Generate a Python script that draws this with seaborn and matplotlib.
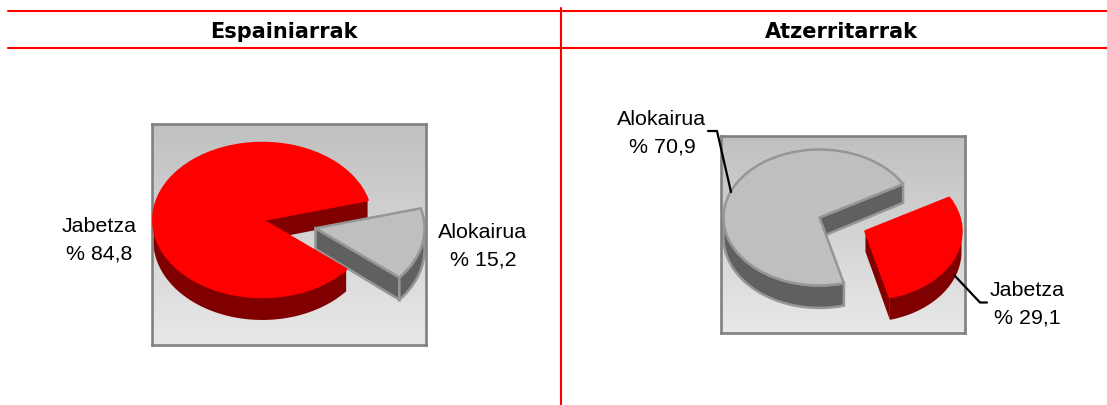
import numpy as np
import matplotlib
matplotlib.use('Agg')
import matplotlib.pyplot as plt
import seaborn as sns

# Datos
categorias = ['Jabetza', 'Alokairua']
espainiarrak = [84.8, 15.2]
atzerritarrak = [29.1, 70.9]
titulos = ['Espainiarrak', 'Atzerritarrak']

sns.set_theme(style='white')
plt.rcParams['font.family'] = ['Liberation Sans', 'DejaVu Sans']

colores = sns.color_palette(['#ff0000', '#bfbfbf'])
colores_lado = ['#800000', '#606060']
bordes = ['none', '#969696']

W, H = 1107, 406
fig = plt.figure(figsize=(W / 100, H / 100), dpi=100, facecolor='white')


# dibuja una tarta con aspecto 3D dentro de una caja dada en pixeles
def tarta(valores, caja, centro, radio, inicio, explode, prof):
    x0, y0, x1, y1 = caja
    ax = fig.add_axes([x0 / W, 1 - y1 / H, (x1 - x0) / W, (y1 - y0) / H])
    wedges, _ = ax.pie(valores, colors=colores, startangle=inicio, explode=explode,
                       wedgeprops={'linewidth': 1.8, 'joinstyle': 'round'})
    ax.set_aspect('auto')
    a, b = radio
    lim_x = ((x0 - centro[0]) / a, (x1 - centro[0]) / a)
    lim_y = ((centro[1] - y1) / b, (centro[1] - y0) / b)
    ax.set_xlim(lim_x)
    ax.set_ylim(lim_y)

    # fondo degradado
    grad = np.linspace(0, 1, 256).reshape(-1, 1)
    cmap = matplotlib.colors.LinearSegmentedColormap.from_list('g', ['#e8e8e8', '#c0c0c0'])
    ax.imshow(grad, origin='lower', aspect='auto', cmap=cmap, zorder=0,
              extent=[lim_x[0], lim_x[1], lim_y[0], lim_y[1]])
    ax.set_xlim(lim_x)
    ax.set_ylim(lim_y)
    ax.set_frame_on(True)
    for s in ax.spines.values():
        s.set_visible(True)
        s.set_color('#808080')
        s.set_linewidth(1.9)

    # profundidad algo mayor en la parte delantera
    def abajo(y):
        return y - prof / b * (1 - 0.12 * y)

    for w, lado, borde in zip(wedges, colores_lado, bordes):
        w.set_zorder(3)
        w.set_edgecolor(borde if borde != 'none' else w.get_facecolor())
        cx, cy = w.center
        t1, t2 = np.radians(w.theta1), np.radians(w.theta2)
        paredes = []
        if np.cos(t1) > 0:
            paredes.append(t1)
        if np.cos(t2) < 0:
            paredes.append(t2)
        for t in paredes:
            px = np.array([cx, cx + np.cos(t), cx + np.cos(t), cx])
            py = np.array([cy, cy + np.sin(t), abajo(cy + np.sin(t)), abajo(cy)])
            ax.fill(px, py, facecolor=lado, edgecolor=borde, linewidth=1.8, zorder=2)
        t = np.linspace(t1, t2, 300)
        t = t[np.sin(t) < 0]
        if len(t) > 0:
            ax_x = cx + np.cos(t)
            ax_y = cy + np.sin(t)
            px = np.concatenate([ax_x, ax_x[::-1]])
            py = np.concatenate([ax_y, abajo(ax_y)[::-1]])
            ax.fill(px, py, facecolor=lado, edgecolor=borde, linewidth=1.8, zorder=2)
    return ax


tarta(espainiarrak, (151.8, 124.8, 425.8, 345.8), (262.3, 221), (109, 77), 15, [0, 0.5], 20.5)
tarta(atzerritarrak, (720.8, 136.8, 964.8, 333.8), (819.5, 218.5), (96, 68), 284.7, [0.52, 0], 20)

# capa en pixeles para lineas y textos
capa = fig.add_axes([0, 0, 1, 1], facecolor='none')
capa.set_xlim(0, W)
capa.set_ylim(H, 0)
capa.axis('off')

rojo = '#ff0000'
capa.plot([8, W], [11.5, 11.5], color=rojo, lw=1.5)
capa.plot([8, W], [49, 49], color=rojo, lw=1.5)
capa.plot([561, 561], [9, H], color=rojo, lw=1.5)

capa.text(284, 31.5, titulos[0], ha='center', va='center', fontsize=15,
          fontweight='bold', family='DejaVu Sans', color='black')
capa.text(841, 31.5, titulos[1], ha='center', va='center', fontsize=15,
          fontweight='bold', family='DejaVu Sans', color='black')


def etiqueta(x, y, cat, val):
    txt = cat + '\n% ' + f'{val:.1f}'.replace('.', ',')
    capa.text(x, y, txt, ha='center', va='center', fontsize=15.4, linespacing=1.55, color='black')


etiqueta(99, 240, categorias[0], espainiarrak[0])
etiqueta(483, 246, categorias[1], espainiarrak[1])
etiqueta(662, 133, categorias[1], atzerritarrak[1])
etiqueta(1027, 304.5, categorias[0], atzerritarrak[0])

# lineas guia
capa.plot([708, 717, 731], [132, 132, 193], color='black', lw=1.6)
capa.plot([955, 980, 987], [277, 303.5, 303.5], color='black', lw=1.6)

fig.savefig('out.png', dpi=100)
